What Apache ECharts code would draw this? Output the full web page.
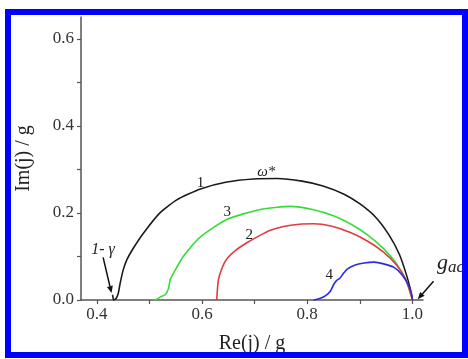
<!DOCTYPE html>
<html><head><meta charset="utf-8">
<script src="https://cdn.jsdelivr.net/npm/echarts@6/dist/echarts.min.js"></script>
<style>html,body{margin:0;padding:0;background:#fff}#c{width:468px;height:359px}</style>
</head><body><div id="c"></div>
<script>
// Curve 1 (black)
const curve1 = [[0.430,0.012],[0.432,0.0],[0.437,0.004],[0.441,0.016],[0.444,0.036],[0.450,0.068],[0.457,0.092],[0.470,0.120],[0.489,0.154],[0.520,0.200],[0.552,0.230],[0.597,0.255],[0.647,0.271],[0.698,0.278],[0.743,0.279],[0.790,0.273],[0.830,0.262],[0.870,0.243],[0.901,0.220],[0.930,0.190],[0.955,0.150],[0.975,0.105],[0.988,0.060],[0.996,0.025],[1.0,0.0]];
// Curve 3 (green)
const curve3 = [[0.508,0.0],[0.515,0.002],[0.522,0.008],[0.530,0.012],[0.536,0.025],[0.540,0.048],[0.552,0.075],[0.565,0.101],[0.597,0.145],[0.647,0.185],[0.711,0.208],[0.768,0.215],[0.810,0.208],[0.851,0.193],[0.885,0.173],[0.914,0.150],[0.945,0.118],[0.970,0.083],[0.988,0.045],[1.0,0.0]];
// Curve 2 (red)
const curve2 = [[0.628,0.0],[0.629,0.02],[0.631,0.045],[0.637,0.070],[0.647,0.094],[0.665,0.115],[0.686,0.132],[0.705,0.145],[0.730,0.160],[0.755,0.169],[0.785,0.174],[0.812,0.175],[0.845,0.170],[0.882,0.155],[0.915,0.135],[0.945,0.110],[0.970,0.080],[0.988,0.045],[1.0,0.0]];
// Curve 4 (blue)
const curve4 = [[0.812,0.0],[0.825,0.004],[0.835,0.010],[0.844,0.020],[0.850,0.035],[0.856,0.045],[0.862,0.050],[0.868,0.060],[0.876,0.071],[0.890,0.080],[0.908,0.085],[0.927,0.087],[0.945,0.083],[0.965,0.075],[0.980,0.058],[0.992,0.035],[0.998,0.015],[1.0,0.0]];

const xTickLabels = [0.4,0.6,0.8,1.0];
const xTicks = [0.4,0.5,0.6,0.7,0.8,0.9,1.0];
const yTickLabels = [0.0,0.2,0.4,0.6];
const yTicks = [0.0,0.1,0.2,0.3,0.4,0.5,0.6];

const serif = '"Liberation Serif","DejaVu Serif",serif';
const chart = echarts.init(document.getElementById('c'), null, {renderer:'canvas'});
const axisCol = '#555';

function mkSeries(data, color){
  return {type:'line', data:data, showSymbol:false, smooth:0.2, clip:false,
    lineStyle:{color:color, width:1.6}, itemStyle:{color:color}};
}

chart.setOption({
  animation:false,
  backgroundColor:'#fff',
  grid:{left:81, top:17, right:45, bottom:58},
  xAxis:{type:'value', min:0.37, max:1.02,
    axisLine:{lineStyle:{color:axisCol, width:1.5}},
    axisTick:{customValues:xTicks, length:4, lineStyle:{color:axisCol, width:1.2}},
    axisLabel:{customValues:xTickLabels, formatter:v=>Number(v).toFixed(1), fontFamily:serif, fontSize:17, color:'#333', margin:6},
    splitLine:{show:false},
    name:'Re(j) / g', nameLocation:'middle', nameGap:34,
    nameTextStyle:{fontFamily:serif, fontSize:20, color:'#222'}},
  yAxis:{type:'value', min:0, max:0.65,
    axisLine:{show:true, lineStyle:{color:axisCol, width:1.5}},
    axisTick:{show:true, customValues:yTicks, length:4, lineStyle:{color:axisCol, width:1.2}},
    axisLabel:{customValues:yTickLabels, formatter:v=>Number(v).toFixed(1), fontFamily:serif, fontSize:17, color:'#333', margin:7},
    splitLine:{show:false},
    name:'Im(j) / g', nameLocation:'middle', nameGap:47,
    nameTextStyle:{fontFamily:serif, fontSize:20, color:'#222'}},
  series:[mkSeries(curve1,'#1a1a1a'), mkSeries(curve3,'#36dd36'), mkSeries(curve2,'#e53a3f'), mkSeries(curve4,'#2b2be0')]
});

// Annotations in data coordinates
const labels = [
  {t:'1', p:[0.597,0.269], s:15, it:false},
  {t:'ω*', p:[0.722,0.293], s:15, it:true},
  {t:'3', p:[0.648,0.203], s:15, it:false},
  {t:'2', p:[0.690,0.150], s:15, it:false},
  {t:'4', p:[0.842,0.057], s:15, it:false},
  {t:'1- γ', p:[0.412,0.116], s:16, it:true}
];
const arrows = [
  {from:[0.412,0.098], to:[0.428,0.016]},
  {from:[1.040,0.043], to:[1.010,0.002]}
];
const px = p => chart.convertToPixel({gridIndex:0}, p);
const g = [];
g.push({type:'rect', shape:{x:8, y:12, width:457, height:343}, style:{fill:'none', stroke:'#0000ff', lineWidth:6}, z:100});
labels.forEach(l=>{
  const q = px(l.p);
  g.push({type:'text', x:q[0], y:q[1], style:{text:l.t, fontFamily:serif, fontSize:l.s, fontStyle:l.it?'italic':'normal', fill:'#222', align:'center', verticalAlign:'middle'}, z:50});
});
const gq = px([1.058,0.084]);
g.push({type:'text', x:gq[0]-6, y:gq[1], style:{text:'{a|g}{b|ac}', verticalAlign:'middle', align:'left',
  rich:{a:{fontFamily:serif, fontSize:22, fontStyle:'italic', fill:'#222'}, b:{fontFamily:serif, fontSize:17, fontStyle:'italic', fill:'#222', padding:[8,0,0,0]}}}, z:50});
arrows.forEach(a=>{
  const f = px(a.from), t = px(a.to);
  const dx = t[0]-f[0], dy = t[1]-f[1], L = Math.hypot(dx,dy), ux = dx/L, uy = dy/L;
  const hl = 7, hw = 3;
  const bx = t[0]-ux*hl, by = t[1]-uy*hl;
  g.push({type:'line', shape:{x1:f[0], y1:f[1], x2:bx, y2:by}, style:{stroke:'#111', lineWidth:1.5}, z:50});
  g.push({type:'polygon', shape:{points:[[t[0],t[1]],[bx-uy*hw,by+ux*hw],[bx+uy*hw,by-ux*hw]]}, style:{fill:'#111'}, z:50});
});
chart.setOption({graphic:g});
</script></body></html>
